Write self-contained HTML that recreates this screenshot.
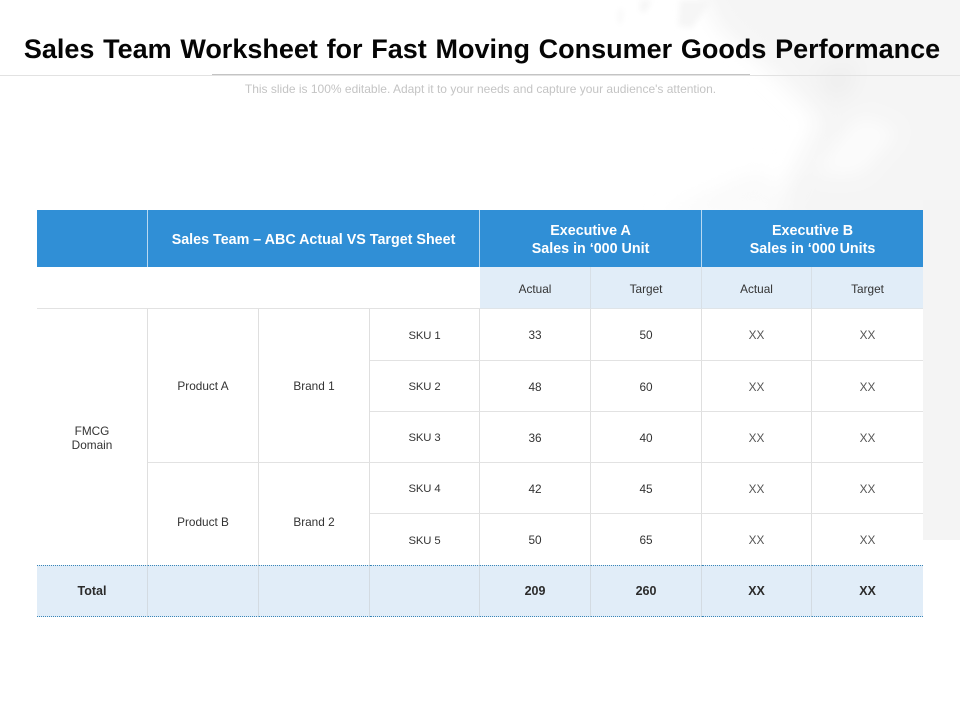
<!DOCTYPE html>
<html lang="en">
<head>
<meta charset="utf-8">
<title>Sales Team Worksheet</title>
<style>
html,body{margin:0;padding:0;background:#fff}
#slide{position:relative;width:960px;height:720px;overflow:hidden;background:#fff;font-family:"Liberation Sans",sans-serif}
#wash{position:absolute;left:0;top:0}
#title{position:absolute;left:0;top:32px;width:964px;text-align:center;font-size:27px;line-height:34px;font-weight:700;color:#050505;white-space:nowrap;word-spacing:1.2px}
.rule{position:absolute;height:1px}
#subtitle{position:absolute;left:0;top:82px;width:961px;text-align:center;font-size:12px;line-height:15px;color:#c4c4c4;white-space:nowrap}
table{position:absolute;left:37px;top:210px;width:886px;height:407px;border-collapse:separate;border-spacing:0;table-layout:fixed;background:#fff;color:#333;font-size:11.8px;line-height:14px;text-align:center}
td,th{padding:1px 0 0;box-sizing:border-box;border-right:1px solid #dfdfdf;border-bottom:1px solid #e2e2e2;font-weight:400;overflow:hidden}
tr>*:last-child{border-right:0}
.h th{padding:2px 0 0;background:#308fd6;color:#fff;font-size:14.3px;line-height:18px;font-weight:700;border-right:1px solid #b9d9f1;border-bottom:0}
.h th:last-child{border-right:0}
.s td{padding:2px 0 0;background:#e1edf8;border-right-color:#d7dfe6;border-bottom-color:#dfe4e8}
.s td:last-child{border-right:0}
.s td.blank{background:#fff;border-right:0;border-bottom-color:#e2e2e2}
.x{color:#555}
.sku{font-size:11.3px;letter-spacing:-.1px;padding-top:2px}
.t td{padding:0;background:#e1edf8;font-weight:700;color:#2b2b2b;font-size:12.5px;border-right-color:#d3dbe2;border-top:1px dotted #3a86b8;border-bottom:1px dotted #3a86b8}
.t td:last-child{border-right:0}
</style>
</head>
<body>
<div id="slide">
<svg id="wash" width="960" height="720" viewBox="0 0 960 720">
<defs>
<filter id="b8" x="-30%" y="-30%" width="160%" height="160%"><feGaussianBlur stdDeviation="10"/></filter>
<filter id="b3" x="-30%" y="-30%" width="160%" height="160%"><feGaussianBlur stdDeviation="3"/></filter>
</defs>
<g filter="url(#b8)">
<polygon points="690,-30 1000,-30 1000,240 760,240 800,160 820,120 770,70 720,30" fill="#f5f5f5"/>
<polygon points="815,70 860,60 850,95 830,100" fill="#efefef"/>
<polygon points="860,115 900,130 860,175 810,175" fill="#fcfcfc"/>
<polygon points="660,215 760,170 800,215" fill="#fafafa"/>
</g>
<g filter="url(#b3)">
<polygon points="680,0 712,0 692,28 678,26" fill="#f6f6f6"/>
<polygon points="640,0 652,0 646,12 640,12" fill="#f6f6f6"/>
<polygon points="618,10 623,8 622,24 618,24" fill="#f8f8f8"/>
</g>
<rect x="923" y="200" width="37" height="340" fill="#f4f4f4"/>
</svg>
<div id="title">Sales Team Worksheet for Fast Moving Consumer Goods Performance</div>
<div class="rule" style="left:0;top:75px;width:960px;background:#e2e2e2"></div>
<div class="rule" style="left:212px;top:74px;width:538px;background:#c4c4c4"></div>
<div id="subtitle">This slide is 100% editable. Adapt it to your needs and capture your audience's attention.</div>
<table>
<colgroup>
<col style="width:111px"><col style="width:111px"><col style="width:111px"><col style="width:110px"><col style="width:111px"><col style="width:111px"><col style="width:110px"><col style="width:111px">
</colgroup>
<tr class="h" style="height:57px">
<th></th>
<th colspan="3">Sales Team – ABC Actual VS Target Sheet</th>
<th colspan="2">Executive A<br>Sales in ‘000 Unit</th>
<th colspan="2">Executive B<br>Sales in ‘000 Units</th>
</tr>
<tr class="s" style="height:42px">
<td colspan="4" class="blank"></td>
<td>Actual</td>
<td>Target</td>
<td>Actual</td>
<td>Target</td>
</tr>
<tr style="height:52px">
<td rowspan="5" style="border-bottom:0">FMCG<br>Domain</td>
<td rowspan="3">Product A</td>
<td rowspan="3">Brand 1</td>
<td class="sku">SKU 1</td>
<td>33</td>
<td>50</td>
<td class="x">XX</td>
<td class="x">XX</td>
</tr>
<tr style="height:51px">
<td class="sku">SKU 2</td>
<td>48</td>
<td>60</td>
<td class="x">XX</td>
<td class="x">XX</td>
</tr>
<tr style="height:51px">
<td class="sku">SKU 3</td>
<td>36</td>
<td>40</td>
<td class="x">XX</td>
<td class="x">XX</td>
</tr>
<tr style="height:51px">
<td rowspan="2" style="border-bottom:0;padding-top:16px">Product B</td>
<td rowspan="2" style="border-bottom:0;padding-top:16px">Brand 2</td>
<td class="sku">SKU 4</td>
<td>42</td>
<td>45</td>
<td class="x">XX</td>
<td class="x">XX</td>
</tr>
<tr style="height:51px">
<td class="sku" style="border-bottom:0">SKU 5</td>
<td style="border-bottom:0">50</td>
<td style="border-bottom:0">65</td>
<td class="x" style="border-bottom:0">XX</td>
<td class="x" style="border-bottom:0">XX</td>
</tr>
<tr class="t" style="height:52px">
<td>Total</td>
<td></td>
<td></td>
<td></td>
<td>209</td>
<td>260</td>
<td>XX</td>
<td>XX</td>
</tr>
</table>
</div>
</body>
</html>
